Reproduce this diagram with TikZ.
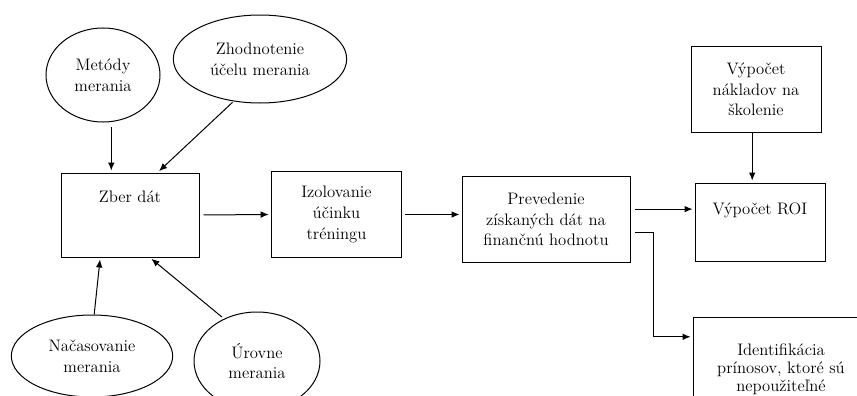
\documentclass[tikz,border=0pt]{standalone}
\usetikzlibrary{shapes.geometric, arrows.meta}

\begin{document}
\begin{tikzpicture}[x=0.75pt, y=-0.75pt, line width=0.75pt,
    every node/.style={font=\fontsize{12.5}{15.5}\selectfont, align=center, inner sep=1pt},
    oval/.style={draw, ellipse},
    stepbox/.style={draw, rectangle},
    arr/.style={->, >={Latex[length=6pt, width=5pt]}, shorten >=1.5pt}]
    \clip (0,0) rectangle (857,396);

    % ovals
    \node[oval, minimum width=85.5pt, minimum height=70.5pt] (metody) at (103,75) {Metódy\\merania};
    \node[oval, minimum width=130pt, minimum height=66pt] (zhodn) at (260,59) {Zhodnotenie\\účelu merania};
    \node[oval, minimum width=121pt, minimum height=61.5pt] (nacas) at (92,356) {Načasovanie\\merania};
    \node[oval, minimum width=94.5pt, minimum height=73.5pt] (urovne) at (257,361) {Úrovne\\merania};

    % boxes
    \node[stepbox, minimum width=103.5pt, minimum height=63pt] (zber) at (130,215) {Zber dát\\[8pt]\strut};
    \node[stepbox, minimum width=98pt, minimum height=65pt] (izol) at (336.5,214.5) {Izolovanie\\účinku\\tréningu};
    \node[stepbox, minimum width=126pt, minimum height=64pt] (prev) at (546,219.5) {Prevedenie\\získaných dát na\\finančnú hodnotu};
    \node[stepbox, minimum width=97.5pt, minimum height=64pt] (naklady) at (756,89.5) {Výpočet\\nákladov na\\školenie};
    \node[stepbox, minimum width=97.5pt, minimum height=58.5pt] (roi) at (760,222) {Výpočet ROI\\\strut};
    \node[stepbox, minimum width=132pt, minimum height=78pt, font=\fontsize{12.5}{13.5}\selectfont] (ident) at (781,369) {Identifikácia\\prínosov, ktoré sú\\nepoužiteľné};

    % arrows into Zber dat
    \draw[arr, shorten <=4pt] (metody.-80) -- (metody.-80 |- zber.north);
    \draw[arr, shorten <=1pt] (zhodn.238) -- (zber.57);
    \draw[arr] (nacas.87) -- (zber.235);
    \draw[arr, shorten <=2pt] (urovne.128) -- (zber.-65);

    % main chain
    \draw[arr, shorten <=3pt] (zber.east) -- (izol.west);
    \draw[arr, shorten <=2pt] (izol.east) -- (izol.east -| prev.west);
    \draw[arr, shorten <=3pt] (prev.7) -- (prev.7 -| roi.west);
    \draw[arr] (naklady.-95) -- (naklady.-95 |- roi.north);
    \draw[arr, shorten <=3pt] (prev.-9) -- ++(23,0) |- (ident.160);
\end{tikzpicture}
\end{document}
